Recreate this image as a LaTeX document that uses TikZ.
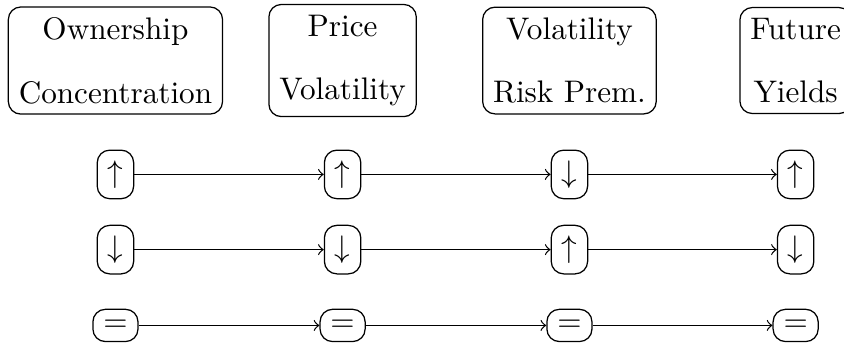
\documentclass[tikz,border=0pt]{standalone}
\usetikzlibrary{arrows}
\begin{document}
\begin{tikzpicture}[
  x=1pt, y=1pt,
  header/.style={draw, rounded corners=4pt, align=center},
  state/.style={draw, rounded corners=4pt},
  flow/.style={->}
]
\useasboundingbox (0,0) rectangle (270.5,-109.9);

% column positions and row positions
\def\ca{37.0}
\def\cb{109.8}
\def\cc{182.5}
\def\cd{255.0}
\def\rh{-19.4}
\def\ra{-55.9}
\def\rb{-80.0}
\def\rc{-104.3}

% variable headers
\node[header] (h1) at (\ca,\rh) {Ownership\\[8.4pt]Concentration};
\node[header] (h2) at (\cb,\rh) {Price\\[8.4pt]Volatility};
\node[header] (h3) at (\cc,\rh) {Volatility\\[8.4pt]Risk Prem.};
\node[header] (h4) at (\cd,\rh) {Future\\[8.4pt]Yields};

% scenario 1: concentration rises
\node[state] (a1) at (\ca,\ra) {$\uparrow$};
\node[state] (a2) at (\cb,\ra) {$\uparrow$};
\node[state] (a3) at (\cc,\ra) {$\downarrow$};
\node[state] (a4) at (\cd,\ra) {$\uparrow$};

% scenario 2: concentration falls
\node[state] (b1) at (\ca,\rb) {$\downarrow$};
\node[state] (b2) at (\cb,\rb) {$\downarrow$};
\node[state] (b3) at (\cc,\rb) {$\uparrow$};
\node[state] (b4) at (\cd,\rb) {$\downarrow$};

% scenario 3: no change
\node[state] (c1) at (\ca,\rc) {$=$};
\node[state] (c2) at (\cb,\rc) {$=$};
\node[state] (c3) at (\cc,\rc) {$=$};
\node[state] (c4) at (\cd,\rc) {$=$};

\foreach \r in {a,b,c}{
  \draw[flow] (\r1) -- (\r2);
  \draw[flow] (\r2) -- (\r3);
  \draw[flow] (\r3) -- (\r4);
}
\end{tikzpicture}
\end{document}
